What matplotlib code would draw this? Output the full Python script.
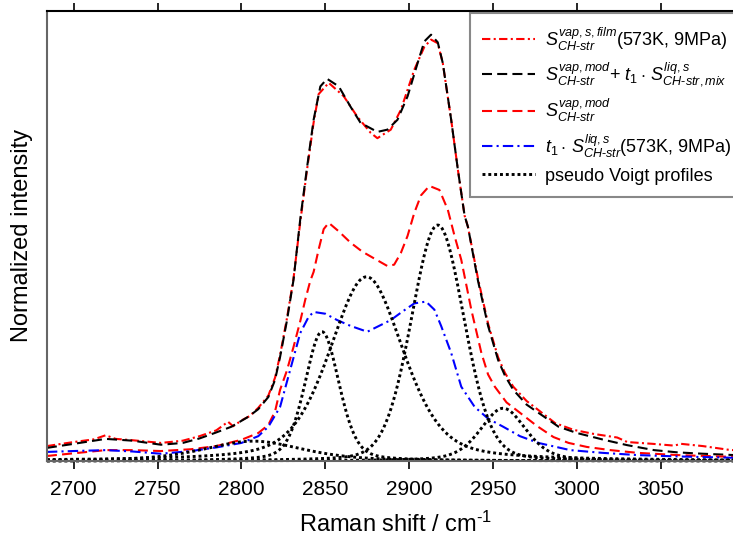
import numpy as np
import matplotlib
matplotlib.use("Agg")
import matplotlib.pyplot as plt

plt.rcParams['font.family'] = ['Liberation Sans', 'DejaVu Sans']
plt.rcParams['mathtext.fontset'] = 'custom'
plt.rcParams['mathtext.rm'] = 'Liberation Sans'
plt.rcParams['mathtext.it'] = 'Liberation Sans:italic'
plt.rcParams['mathtext.bf'] = 'Liberation Sans:bold'

# --- measured spectra (Raman shift in cm^-1, normalized intensity) ---
film_x = [2684, 2700, 2712, 2719, 2725, 2735, 2752, 2765, 2775, 2785, 2792, 2795,
          2800, 2805, 2810, 2816, 2820, 2823, 2827, 2831, 2835, 2839, 2843, 2846,
          2852, 2861, 2869, 2877, 2881, 2889, 2895, 2903, 2909, 2913, 2917, 2920,
          2925, 2929, 2933, 2935, 2941, 2947, 2953, 2957, 2962, 2970, 2977, 2987,
          2998, 3010, 3024, 3030, 3045, 3058, 3062, 3075, 3090, 3100]
film_y = [0.033, 0.042, 0.048, 0.057, 0.049, 0.046, 0.040, 0.045, 0.055, 0.068, 0.087, 0.077,
          0.090, 0.100, 0.118, 0.145, 0.185, 0.235, 0.315, 0.405, 0.530, 0.645, 0.752, 0.815,
          0.840, 0.810, 0.765, 0.729, 0.717, 0.736, 0.780, 0.869, 0.920, 0.936, 0.928, 0.884,
          0.758, 0.647, 0.545, 0.520, 0.405, 0.305, 0.230, 0.196, 0.165, 0.133, 0.113, 0.084,
          0.069, 0.060, 0.052, 0.042, 0.038, 0.034, 0.038, 0.033, 0.025, 0.022]

model_x = [2684, 2700, 2719, 2735, 2752, 2765, 2775, 2784, 2794, 2804, 2810, 2816,
           2820, 2823, 2827, 2831, 2835, 2839, 2843, 2847, 2851, 2858, 2865, 2871,
           2881, 2887, 2893, 2899, 2905, 2909, 2913, 2917, 2920, 2925, 2929, 2933,
           2935, 2941, 2947, 2953, 2957, 2962, 2970, 2977, 2989, 3000, 3016, 3030,
           3046, 3060, 3075, 3094, 3100]
model_y = [0.029, 0.038, 0.049, 0.045, 0.036, 0.040, 0.050, 0.062, 0.076, 0.098, 0.115, 0.142,
           0.180, 0.231, 0.310, 0.402, 0.536, 0.650, 0.758, 0.832, 0.849, 0.832, 0.787, 0.751,
           0.731, 0.736, 0.758, 0.810, 0.884, 0.932, 0.947, 0.930, 0.884, 0.758, 0.647, 0.545,
           0.520, 0.400, 0.300, 0.224, 0.190, 0.158, 0.125, 0.107, 0.076, 0.062, 0.047, 0.035,
           0.024, 0.019, 0.016, 0.013, 0.012]

vap_x = [2684, 2700, 2719, 2735, 2752, 2770, 2785, 2800, 2810, 2816, 2820, 2823,
         2827, 2831, 2835, 2838, 2841, 2843, 2846, 2849, 2852, 2858, 2865, 2872,
         2879, 2887, 2891, 2895, 2899, 2903, 2907, 2912, 2918, 2923, 2927, 2931,
         2937, 2943, 2947, 2951, 2958, 2966, 2976, 2986, 2995, 3006, 3020, 3036,
         3060, 3093, 3100]
vap_y = [0.011, 0.017, 0.024, 0.024, 0.022, 0.026, 0.033, 0.047, 0.062, 0.080, 0.110, 0.158,
         0.200, 0.253, 0.310, 0.358, 0.400, 0.420, 0.470, 0.515, 0.529, 0.510, 0.485, 0.465,
         0.450, 0.433, 0.436, 0.462, 0.500, 0.551, 0.590, 0.611, 0.602, 0.558, 0.500, 0.447,
         0.336, 0.240, 0.192, 0.165, 0.130, 0.107, 0.078, 0.053, 0.040, 0.031, 0.024, 0.018,
         0.013, 0.009, 0.009]

liq_x = [2684, 2700, 2719, 2735, 2752, 2770, 2785, 2800, 2810, 2816, 2823, 2829,
         2835, 2840, 2843, 2850, 2857, 2865, 2875, 2889, 2896, 2903, 2910, 2915,
         2919, 2925, 2931, 2939, 2947, 2956, 2966, 2977, 2996, 3015, 3036, 3060,
         3093, 3100]
liq_y = [0.020, 0.022, 0.024, 0.021, 0.016, 0.022, 0.030, 0.040, 0.055, 0.076, 0.120, 0.202,
         0.284, 0.320, 0.331, 0.327, 0.313, 0.300, 0.287, 0.313, 0.332, 0.350, 0.354, 0.336,
         0.300, 0.240, 0.165, 0.120, 0.094, 0.076, 0.055, 0.040, 0.024, 0.018, 0.013, 0.010,
         0.007, 0.007]

# --- fitted pseudo Voigt components: centre, height, FWHM, Lorentzian fraction ---
pv_center = [2807, 2848, 2874.5, 2917, 2956]
pv_height = [0.044, 0.287, 0.409, 0.524, 0.117]
pv_fwhm = [70, 24, 52, 37, 32]
pv_eta = [0.5, 0.3, 0.4, 0.15, 0.4]

x_ticks = [2700, 2750, 2800, 2850, 2900, 2950, 3000, 3050]

labels = [
    r'$S^{vap,s,film}_{CH\text{-}str}$(573K, 9MPa)',
    r'$S^{vap,mod}_{CH\text{-}str}$+ $t_{\mathit{1}}\cdot\,S^{liq,s}_{CH\text{-}str,mix}$',
    r'$S^{vap,mod}_{CH\text{-}str}$',
    r'$t_{\mathit{1}}\cdot\,S^{liq,s}_{CH\text{-}str}$(573K, 9MPa)',
    'pseudo Voigt profiles',
]


def pseudo_voigt(x, c, h, w, eta):
    g = np.exp(-4 * np.log(2) * ((x - c) / w) ** 2)
    lz = 1.0 / (1.0 + (2 * (x - c) / w) ** 2)
    return h * (eta * lz + (1 - eta) * g)


fig = plt.figure(figsize=(7.33, 5.41), dpi=100)
ax = fig.add_axes([0.064, 0.148, 0.952, 0.832])
xmin, xmax = 2684, 3100
ax.set_xlim(xmin, xmax)
ax.set_ylim(0, 1.0)

lw = 1.5
l1, = ax.plot(film_x, film_y, color='red', lw=lw, linestyle=(0, (4, 1.6, 1, 1.6)))
l2, = ax.plot(model_x, model_y, color='black', lw=lw, linestyle=(0, (4.8, 2.5)))
l3, = ax.plot(vap_x, vap_y, color='red', lw=lw, linestyle=(0, (4.8, 2.5)))
l4, = ax.plot(liq_x, liq_y, color='blue', lw=lw, linestyle=(0, (5, 2, 1, 2)))

xs = np.linspace(xmin, xmax, 900)
for c, h, w, e in zip(pv_center, pv_height, pv_fwhm, pv_eta):
    l5, = ax.plot(xs, pseudo_voigt(xs, c, h, w, e), color='black', lw=2.1,
                  linestyle=(0, (1, 1)), dash_capstyle='butt', clip_on=False)

ax.set_xticks(x_ticks)
ax.set_yticks([])
ax.tick_params(axis='x', direction='out', length=6, width=1.2, top=True,
               labeltop=False, labelsize=15, pad=8)
for side in ('left', 'bottom'):
    ax.spines[side].set_color('#666666')
    ax.spines[side].set_linewidth(1.5)
ax.spines['top'].set_color('black')
ax.spines['top'].set_linewidth(1.5)

ax.set_xlabel(r'Raman shift / cm$^{\text{-1}}$', fontsize=17, labelpad=9)
ax.set_ylabel('Normalized intensity', fontsize=17, labelpad=10)

leg = ax.legend([l1, l2, l3, l4, l5], labels, loc='upper left',
                bbox_to_anchor=(0.606, 0.996), fontsize=13, handlelength=2.9,
                handletextpad=0.55, labelspacing=0.45, borderpad=0.7,
                borderaxespad=0, fancybox=False, framealpha=1)
leg.get_frame().set_edgecolor('#888888')
leg.get_frame().set_linewidth(1.5)

fig.savefig('out.png', dpi=100)
